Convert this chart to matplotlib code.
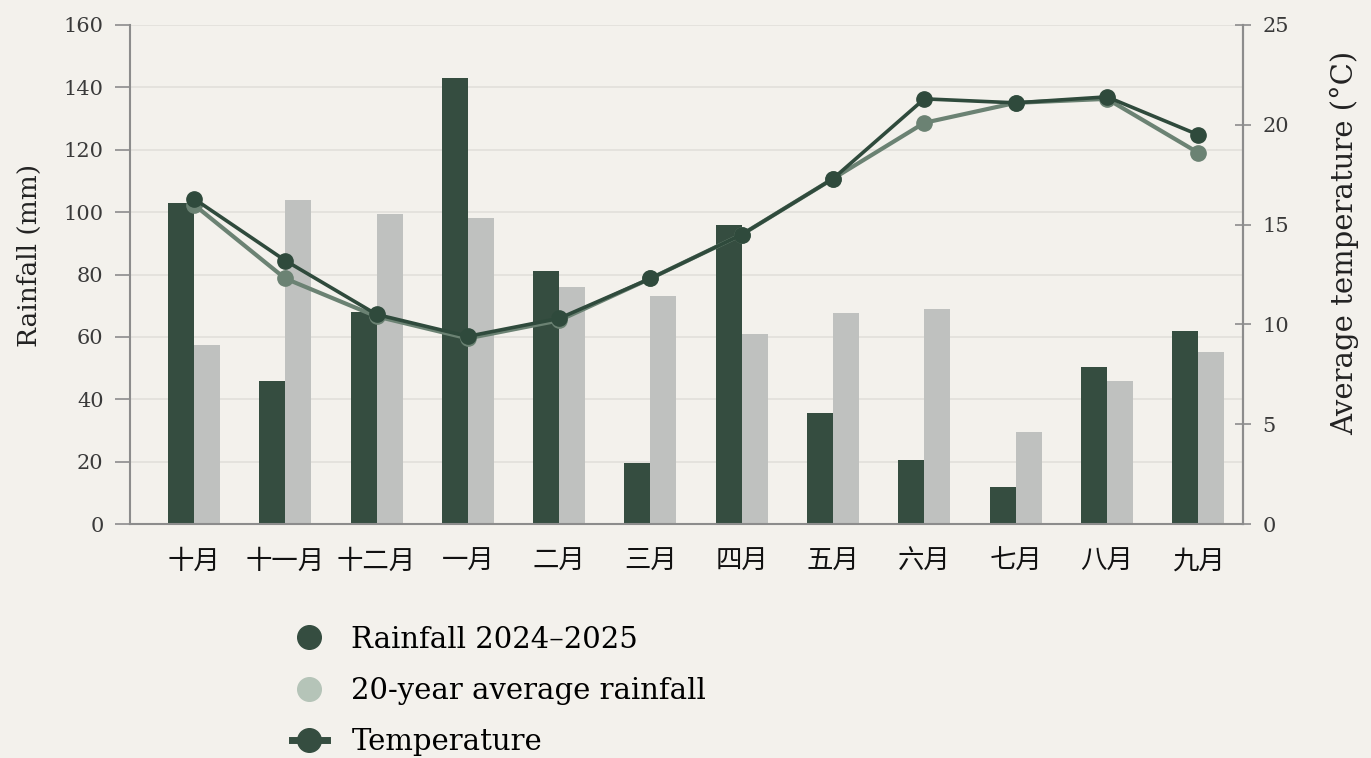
import matplotlib.pyplot as plt
import numpy as np
from matplotlib.lines import Line2D

# data
months = ["十月", "十一月", "十二月", "一月", "二月", "三月", "四月", "五月", "六月", "七月", "八月", "九月"]
rain_2024 = [103, 46, 68, 143, 81, 19.5, 96, 35.5, 20.5, 12, 50.5, 62]
rain_avg = [57.5, 104, 99.5, 98, 76, 73, 61, 67.5, 69, 29.5, 46, 55]
temp_2024 = [16.3, 13.2, 10.5, 9.4, 10.3, 12.3, 14.5, 17.3, 21.3, 21.1, 21.4, 19.5]
temp_avg = [16.0, 12.3, 10.4, 9.3, 10.2, 12.3, 14.5, 17.3, 20.1, 21.1, 21.3, 18.6]

bg = "#f3f1ec"
dark = "#354d40"
light_bar = "#bfc1bf"
temp_dark = "#2f4a3c"
temp_light = "#6b8273"
axis_col = "#8c8c8c"

serif = ["DejaVu Serif"]
cjk = ["Noto Sans CJK SC", "DejaVu Sans"]

fig = plt.figure(figsize=(13.71, 7.58), dpi=100, facecolor=bg)
ax = fig.add_axes([130 / 1371, 1 - 524 / 758, 1113 / 1371, 499 / 758])
ax.set_facecolor(bg)

x = np.arange(len(months))
w = 0.285
ax.bar(x - w / 2, rain_2024, width=w, color=dark, zorder=2)
ax.bar(x + w / 2, rain_avg, width=w, color=light_bar, zorder=2)

ax.set_xlim(-0.70, 11.49)
ax.set_ylim(0, 160)
ax.set_yticks(np.arange(0, 161, 20))
ax.set_xticks(x)
ax.set_xticklabels(months, family=cjk, fontsize=19)
ax.grid(axis="y", color="#e2e0da", linewidth=1.2, zorder=0)
ax.set_axisbelow(True)

ax.spines["top"].set_visible(False)
for s in ["left", "right", "bottom"]:
    ax.spines[s].set_color(axis_col)
    ax.spines[s].set_linewidth(1.5)
ax.tick_params(axis="y", colors=axis_col, labelcolor="#3a3a3a", length=11, width=1.2, pad=8)
ax.tick_params(axis="x", length=0, pad=17, labelcolor="#111111")
for lab in ax.get_yticklabels():
    lab.set_family(serif)
    lab.set_fontsize(15)
ax.set_ylabel("Rainfall (mm)", family=serif, fontsize=19, color="#222222")
ax.yaxis.set_label_coords(-0.079, 0.539)

ax2 = ax.twinx()
ax2.set_ylim(0, 25)
ax2.set_yticks(np.arange(0, 26, 5))
ax2.plot(x, temp_avg, color=temp_light, linewidth=3, marker="o", markersize=11, zorder=3)
ax2.plot(x, temp_2024, color=temp_dark, linewidth=2.6, marker="o", markersize=11, zorder=4)
for s in ["top", "left", "bottom"]:
    ax2.spines[s].set_visible(False)
ax2.spines["right"].set_color(axis_col)
ax2.spines["right"].set_linewidth(1.5)
ax2.tick_params(axis="y", direction="inout", colors=axis_col, labelcolor="#3a3a3a", length=12, width=1.2, pad=8)
for lab in ax2.get_yticklabels():
    lab.set_family(serif)
    lab.set_fontsize(15)
ax2.set_ylabel("Average temperature (°C)", family=serif, fontsize=21, color="#222222")
ax2.yaxis.set_label_coords(1.078, 0.563)

handles = [
    Line2D([], [], marker="o", linestyle="none", color=dark, markersize=17),
    Line2D([], [], marker="o", linestyle="none", color="#b5c4b8", markersize=17),
    Line2D([], [], marker="o", linestyle="-", linewidth=5, color=dark, markersize=17),
]
labels = ["Rainfall 2024–2025", "20-year average rainfall", "Temperature"]
fig.legend(handles, labels, loc="upper left", bbox_to_anchor=(280 / 1371, 1 - 614 / 758),
           frameon=False, prop={"family": serif, "size": 21}, handlelength=1.2,
           handletextpad=0.85, labelspacing=0.8, borderaxespad=0)

fig.savefig("out.png", dpi=100, facecolor=bg)
